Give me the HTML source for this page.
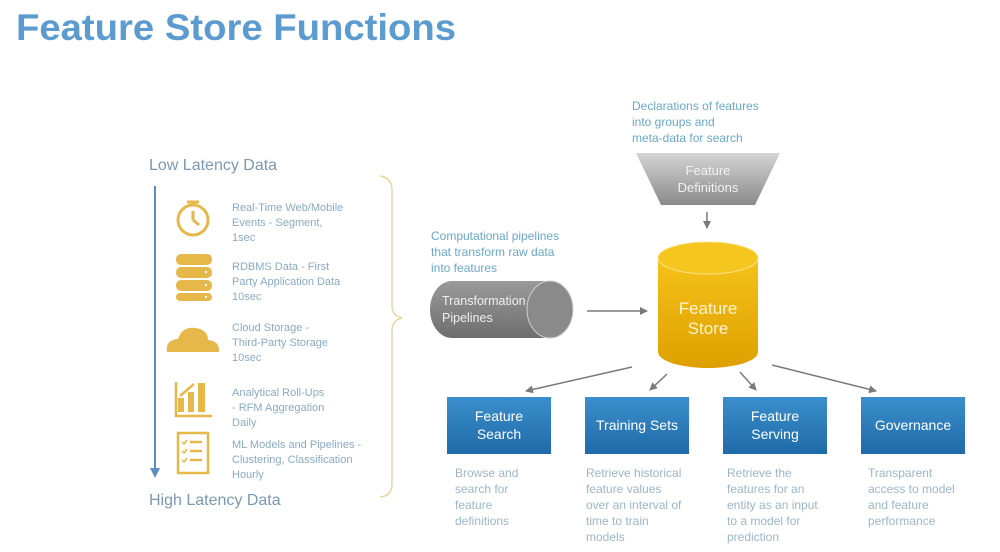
<!DOCTYPE html>
<html><head><meta charset="utf-8"><style>
html,body{margin:0;padding:0;background:#fff;width:1000px;height:552px;overflow:hidden}
svg{display:block;font-family:"Liberation Sans",Arial,sans-serif}
</style></head><body>
<svg width="1000" height="552" viewBox="0 0 1000 552">
<defs>
<linearGradient id="blue" x1="0" y1="0" x2="0" y2="1"><stop offset="0" stop-color="#3b8fcc"/><stop offset="1" stop-color="#1f6aa8"/></linearGradient>
<linearGradient id="gray" x1="0" y1="0" x2="0" y2="1"><stop offset="0" stop-color="#d4d4d4"/><stop offset="1" stop-color="#8a8a8a"/></linearGradient>
<linearGradient id="gold" x1="0" y1="0" x2="0" y2="1"><stop offset="0" stop-color="#f5c21a"/><stop offset="1" stop-color="#dea000"/></linearGradient>
<linearGradient id="pipe" x1="0" y1="0" x2="0" y2="1"><stop offset="0" stop-color="#9a9a9a"/><stop offset="1" stop-color="#6e6e6e"/></linearGradient>
<marker id="ah" markerWidth="8" markerHeight="8" refX="7" refY="4" orient="auto" markerUnits="userSpaceOnUse"><path d="M0,0 L8,4 L0,8 z" fill="#7a7a7a"/></marker>
</defs>
<text x="16" y="40" font-size="37" font-weight="bold" fill="#5b9bd0" textLength="440" lengthAdjust="spacingAndGlyphs">Feature Store Functions</text>

<!-- left column -->
<text x="149" y="170" font-size="16" fill="#7a98b2">Low Latency Data</text>
<text x="149" y="505" font-size="16" fill="#7a98b2">High Latency Data</text>
<line x1="155" y1="186" x2="155" y2="470" stroke="#5b8fc0" stroke-width="2"/>
<path d="M150,468 L160,468 L155,478 z" fill="#5b8fc0"/>
<path d="M380,176 Q392,178 392,190 L392,305 Q392,316 402,318 Q392,320 392,331 L392,484 Q392,496 380,497" fill="none" stroke="#e8d5a0" stroke-width="1.5"/>

<g fill="#8aaac4" font-size="11">
<text x="232" y="211">Real-Time Web/Mobile</text><text x="232" y="226">Events - Segment,</text><text x="232" y="241">1sec</text>
<text x="232" y="270">RDBMS Data - First</text><text x="232" y="285">Party Application Data</text><text x="232" y="300">10sec</text>
<text x="232" y="331">Cloud Storage -</text><text x="232" y="346">Third-Party Storage</text><text x="232" y="361">10sec</text>
<text x="232" y="396">Analytical Roll-Ups</text><text x="232" y="411">- RFM Aggregation</text><text x="232" y="426">Daily</text>
<text x="232" y="448">ML Models and Pipelines -</text><text x="232" y="463">Clustering, Classification</text><text x="232" y="478">Hourly</text>
</g>
<!-- icons -->
<g fill="none" stroke="#e6b84a" stroke-width="3">
<circle cx="193" cy="220" r="15"/><line x1="193" y1="220" x2="193" y2="211"/><line x1="193" y1="220" x2="199" y2="225"/>
<line x1="187" y1="202" x2="199" y2="202"/><line x1="193" y1="202" x2="193" y2="205"/>
</g>
<g fill="#e6b84a">
<rect x="176" y="254" width="36" height="11" rx="5"/><rect x="176" y="267" width="36" height="11" rx="5"/><rect x="176" y="280" width="36" height="11" rx="5"/><rect x="176" y="293" width="36" height="8" rx="4"/>
<path d="M167,352 Q165,340 178,339 Q182,326 196,328 Q208,330 208,340 Q220,341 219,352 z"/>
<rect x="178" y="398" width="6" height="14"/><rect x="188" y="392" width="6" height="20"/><rect x="198" y="383" width="7" height="29"/>
</g>
<g fill="#fff"><circle cx="206" cy="272" r="1.2"/><circle cx="206" cy="285" r="1.2"/><circle cx="206" cy="297" r="1.2"/></g>
<g fill="none" stroke="#e6b84a" stroke-width="2.5">
<path d="M176,382 L176,416 L212,416"/><path d="M180,396 L194,384"/>
<rect x="178" y="433" width="30" height="40"/>
<line x1="190" y1="442" x2="202" y2="442"/><line x1="190" y1="451" x2="202" y2="451"/><line x1="190" y1="460" x2="202" y2="460"/>
<path d="M182,442 l2,2 l3,-4 M182,451 l2,2 l3,-4 M182,460 l2,2 l3,-4" stroke-width="1.5"/>
</g>

<!-- feature definitions -->
<g fill="#6aa8c8" font-size="12">
<text x="632" y="110">Declarations of features</text><text x="632" y="126">into groups and</text><text x="632" y="142">meta-data for search</text>
<text x="431" y="240">Computational pipelines</text><text x="431" y="256">that transform raw data</text><text x="431" y="272">into features</text>
</g>
<path d="M636,153 L780,153 L755,205 L661,205 z" fill="url(#gray)"/>
<text x="708" y="175" font-size="13" fill="#f2f2f2" text-anchor="middle">Feature</text>
<text x="708" y="192" font-size="13" fill="#f2f2f2" text-anchor="middle">Definitions</text>
<line x1="707" y1="212" x2="707" y2="228" stroke="#7a7a7a" stroke-width="1.5" marker-end="url(#ah)"/>

<!-- transformation cylinder -->
<path d="M452,281 L550,281 A23,28.5 0 0 1 550,338 L452,338 A22,28.5 0 0 1 452,281 z" fill="url(#pipe)"/>
<ellipse cx="550" cy="309.5" rx="23" ry="28.5" fill="#8a8a8a" stroke="#cfcfcf" stroke-width="1"/>
<text x="442" y="305" font-size="12.5" fill="#f0f0f0">Transformation</text>
<text x="442" y="322" font-size="12.5" fill="#f0f0f0">Pipelines</text>
<line x1="587" y1="311" x2="647" y2="311" stroke="#7a7a7a" stroke-width="1.5" marker-end="url(#ah)"/>

<!-- feature store cylinder -->
<path d="M658,258 L658,352 A50,16 0 0 0 758,352 L758,258 z" fill="url(#gold)"/>
<ellipse cx="708" cy="258" rx="50" ry="16" fill="#f5c520" stroke="#fbe38a" stroke-width="1"/>
<text x="708" y="314" font-size="17" fill="#fff4d0" text-anchor="middle">Feature</text>
<text x="708" y="334" font-size="17" fill="#fff4d0" text-anchor="middle">Store</text>

<g stroke="#7a7a7a" stroke-width="1.5" marker-end="url(#ah)">
<line x1="632" y1="367" x2="526" y2="391"/>
<line x1="667" y1="374" x2="650" y2="390"/>
<line x1="740" y1="372" x2="756" y2="390"/>
<line x1="772" y1="365" x2="876" y2="391"/>
</g>

<!-- boxes -->
<g fill="url(#blue)">
<rect x="447" y="397" width="104" height="57"/>
<rect x="585" y="397" width="104" height="57"/>
<rect x="723" y="397" width="104" height="57"/>
<rect x="861" y="397" width="104" height="57"/>
</g>
<g fill="#fff" font-size="14" text-anchor="middle">
<text x="499" y="421">Feature</text><text x="499" y="439">Search</text>
<text x="637" y="430">Training Sets</text>
<text x="775" y="421">Feature</text><text x="775" y="439">Serving</text>
<text x="913" y="430">Governance</text>
</g>
<g fill="#9cb5c8" font-size="12">
<text x="455" y="477">Browse and</text><text x="455" y="493">search for</text><text x="455" y="509">feature</text><text x="455" y="525">definitions</text>
<text x="586" y="477">Retrieve historical</text><text x="586" y="493">feature values</text><text x="586" y="509">over an interval of</text><text x="586" y="525">time to train</text><text x="586" y="541">models</text>
<text x="727" y="477">Retrieve the</text><text x="727" y="493">features for an</text><text x="727" y="509">entity as an input</text><text x="727" y="525">to a model for</text><text x="727" y="541">prediction</text>
<text x="868" y="477">Transparent</text><text x="868" y="493">access to model</text><text x="868" y="509">and feature</text><text x="868" y="525">performance</text>
</g>
</svg>
</body></html>
